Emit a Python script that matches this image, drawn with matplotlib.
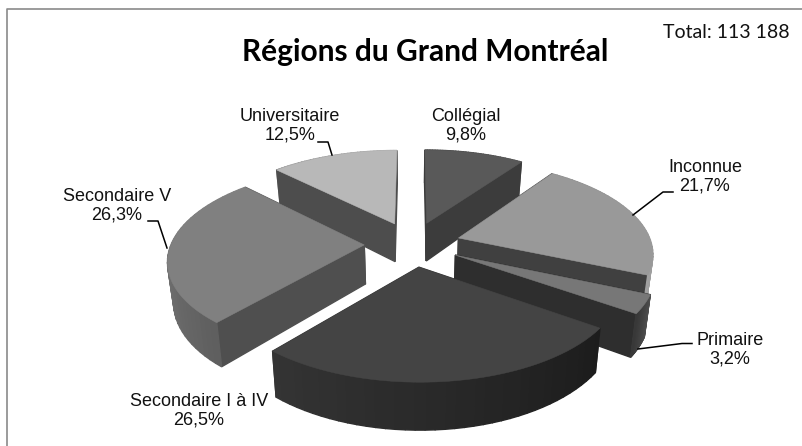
import numpy as np
import matplotlib
matplotlib.use('Agg')
import matplotlib.pyplot as plt
from matplotlib.patches import Polygon

# Donnees
categories = ['Collégial', 'Inconnue', 'Primaire', 'Secondaire I à IV', 'Secondaire V', 'Universitaire']
valeurs = [9.8, 21.7, 3.2, 26.5, 26.3, 12.5]
titre = 'Régions du Grand Montréal'
total = 'Total: 113 188'

# Style de chaque tranche
dessus = ['#595959', '#999999', '#777777', '#444444', '#808080', '#b8b8b8']
paroi = ['#3c3c3c', '#404040', '#2e2e2e', '#333333', '#4f4f4f', '#4d4d4d']
ext_debut = ['#404040', '#8c8c8c', '#505050', '#1c1c1c', '#5f5f5f', '#8a8a8a']
ext_fin = ['#555555', '#a0a0a0', '#383838', '#343434', '#8c8c8c', '#a8a8a8']
ordre = [0, 5, 4, 1, 2, 3]
pos_labels = [(466, 126), (705, 177), (730, 350), (199, 411), (117, 206), (290, 126)]
leaders = {
    5: [(318, 142), (328, 142), (332, 155)],
    4: [(148, 221), (158, 221), (167, 248)],
    1: [(673, 192), (663, 192), (633, 215)],
    2: [(692, 343.5), (682, 343.5), (638, 349)],
}

# Parametres de la projection (pixels)
cx, cy = 412.5, 244
R, Q, p = 193, 90, 0.15
explose = 0.25
prof = 39


def projette(u, v, bas=False):
    s = 1 / (1 + p * v)
    x = cx + R * u * s
    y = cy - Q * v * s
    if bas:
        x = cx + (x - cx) * 0.975
        y = y + prof * s
    return x, y


fig = plt.figure(figsize=(8.02, 4.46), dpi=100)
ax = fig.add_axes([0, 0, 1, 1])
ax.set_xlim(0, 802)
ax.set_ylim(446, 0)
ax.axis('off')

# Cadre
ax.plot([7, 7, 802], [446, 9, 9], color='#8a8a8a', lw=1.2)

fracs = np.array(valeurs) / sum(valeurs) * 2 * np.pi
bords = np.concatenate([[0], np.cumsum(fracs)])

for i in ordre:
    a0, a1 = bords[i], bords[i + 1]
    mid = (a0 + a1) / 2
    ou, ov = explose * np.sin(mid), explose * np.cos(mid)
    angles = np.linspace(a0, a1, 40)
    arc_u = ou + np.sin(angles)
    arc_v = ov + np.cos(angles)

    faces = []
    # parois radiales
    for a in (a0, a1):
        u, v = ou + np.sin(a), ov + np.cos(a)
        pts = [projette(ou, ov), projette(u, v), projette(u, v, True), projette(ou, ov, True)]
        faces.append((np.mean([q[1] for q in pts]), pts, paroi[i]))
    # paroi exterieure, en bandes pour le degrade
    c0 = np.array(matplotlib.colors.to_rgb(ext_debut[i]))
    c1 = np.array(matplotlib.colors.to_rgb(ext_fin[i]))
    for k in range(len(angles) - 1):
        pts = [projette(arc_u[k], arc_v[k]), projette(arc_u[k + 1], arc_v[k + 1]),
               projette(arc_u[k + 1], arc_v[k + 1], True), projette(arc_u[k], arc_v[k], True)]
        t = k / (len(angles) - 2)
        faces.append((np.mean([q[1] for q in pts]), pts, tuple(c0 + (c1 - c0) * t)))
    faces.sort(key=lambda f: f[0])
    for _, pts, coul in faces:
        ax.add_patch(Polygon(pts, closed=True, facecolor=coul, edgecolor=coul, lw=1.0))

    # dessus
    haut = [projette(ou, ov)] + [projette(u, v) for u, v in zip(arc_u, arc_v)]
    ax.add_patch(Polygon(haut, closed=True, facecolor=dessus[i], edgecolor=dessus[i], lw=0.4))

# Etiquettes
for nom, val, (x, y) in zip(categories, valeurs, pos_labels):
    txt = nom + '\n' + f'{val:.1f}'.replace('.', ',') + '%'
    ax.text(x, y, txt, ha='center', va='center', fontsize=13, family='Liberation Sans',
            color='#111111', linespacing=1.15)
for i, pts in leaders.items():
    ax.plot([q[0] for q in pts], [q[1] for q in pts], color='black', lw=1.1)

ax.text(425, 52, titre, ha='center', va='center', fontsize=21.5, fontweight='bold', family='Lato', color='black')
ax.text(726, 33, total, ha='center', va='center', fontsize=14, family='Lato', color='#111111')

fig.savefig('out.png', dpi=100)
